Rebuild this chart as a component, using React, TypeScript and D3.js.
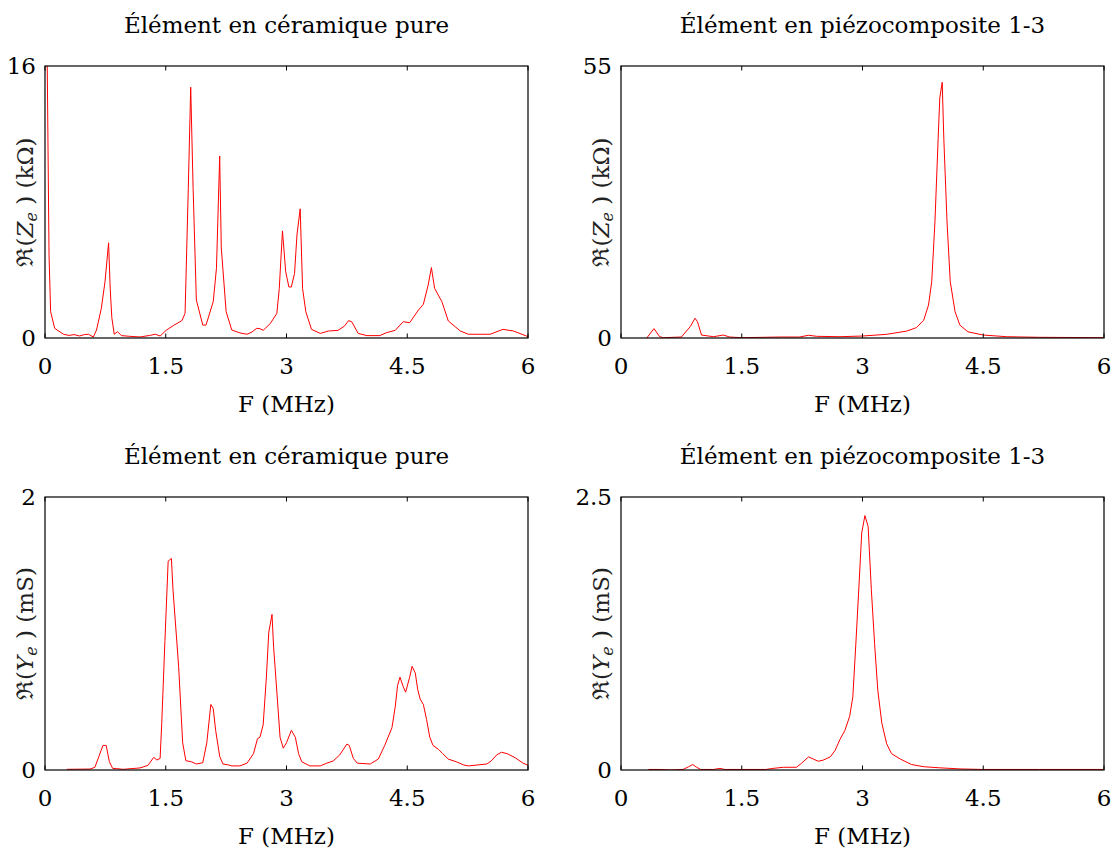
import React from 'react';
import * as d3 from 'd3';

// ---------- data ----------
const freqTicks = [0, 1.5, 3, 4.5, 6];
const freqTickLabels = ['0', '1.5', '3', '4.5', '6'];

const titles = ['Élément en céramique pure', 'Élément en piézocomposite 1-3'];

// Re(Ze) ceramic (kΩ)
const zCerF = [0.01, 0.05, 0.07, 0.12, 0.23, 0.30, 0.36, 0.43, 0.49, 0.54, 0.60, 0.64, 0.70, 0.745, 0.79, 0.81, 0.83, 0.86, 0.90, 0.95, 1.05, 1.18, 1.30, 1.37, 1.43, 1.51, 1.60, 1.70, 1.74, 1.78, 1.81, 1.84, 1.88, 1.96, 2.00, 2.09, 2.13, 2.17, 2.19, 2.25, 2.32, 2.42, 2.51, 2.57, 2.63, 2.67, 2.71, 2.80, 2.88, 2.91, 2.95, 2.99, 3.03, 3.06, 3.10, 3.13, 3.17, 3.20, 3.24, 3.31, 3.42, 3.52, 3.64, 3.72, 3.77, 3.81, 3.89, 4.00, 4.16, 4.24, 4.35, 4.45, 4.53, 4.64, 4.70, 4.76, 4.80, 4.84, 4.93, 5.01, 5.16, 5.26, 5.53, 5.69, 5.82, 6.00];
const zCerV = [25, 4.9, 1.55, 0.57, 0.22, 0.15, 0.2, 0.12, 0.2, 0.22, 0.06, 0.47, 1.75, 3.3, 5.6, 2.9, 1.2, 0.22, 0.37, 0.14, 0.1, 0.06, 0.15, 0.22, 0.12, 0.47, 0.75, 1.02, 1.45, 8.8, 14.75, 8.8, 2.24, 0.76, 0.76, 2.14, 4.1, 10.7, 5.3, 1.55, 0.47, 0.3, 0.22, 0.35, 0.57, 0.55, 0.45, 0.86, 1.45, 2.9, 6.3, 3.9, 3.0, 3.0, 3.8, 6.06, 7.6, 2.9, 1.55, 0.51, 0.27, 0.41, 0.45, 0.7, 1.02, 0.96, 0.27, 0.14, 0.14, 0.31, 0.45, 0.96, 0.9, 1.65, 1.98, 3.12, 4.14, 2.92, 2.14, 1.0, 0.41, 0.22, 0.22, 0.51, 0.41, 0.08];

// Re(Ze) piezocomposite (kΩ)
const zPzF = [0.32, 0.41, 0.48, 0.53, 0.75, 0.86, 0.92, 0.95, 1.00, 1.15, 1.27, 1.35, 1.50, 1.98, 2.22, 2.33, 2.43, 2.72, 3.00, 3.30, 3.55, 3.67, 3.76, 3.82, 3.86, 3.90, 3.94, 3.96, 3.99, 4.01, 4.05, 4.09, 4.15, 4.21, 4.31, 4.50, 4.79, 5.20, 6.00];
const zPzV = [0, 1.9, 0.26, 0.06, 0.2, 2.3, 4.0, 3.3, 0.6, 0.26, 0.6, 0.2, 0.06, 0.2, 0.2, 0.55, 0.34, 0.26, 0.4, 0.74, 1.4, 2.1, 3.6, 6.65, 11.4, 23.5, 40.4, 48.5, 51.7, 40.4, 23.5, 11.4, 5.3, 2.6, 1.25, 0.6, 0.26, 0.14, 0.06];

// Re(Ye) ceramic (mS)
const yCerF = [0.27, 0.56, 0.62, 0.67, 0.72, 0.76, 0.80, 0.84, 0.89, 0.97, 1.18, 1.28, 1.35, 1.39, 1.43, 1.45, 1.49, 1.53, 1.57, 1.59, 1.66, 1.71, 1.75, 1.82, 1.88, 1.96, 2.01, 2.06, 2.09, 2.12, 2.17, 2.21, 2.28, 2.32, 2.42, 2.51, 2.59, 2.64, 2.67, 2.71, 2.75, 2.78, 2.82, 2.84, 2.89, 2.92, 2.96, 3.00, 3.06, 3.11, 3.15, 3.19, 3.29, 3.42, 3.50, 3.58, 3.66, 3.75, 3.78, 3.83, 3.88, 4.04, 4.14, 4.22, 4.31, 4.35, 4.38, 4.41, 4.45, 4.48, 4.53, 4.56, 4.60, 4.63, 4.66, 4.70, 4.74, 4.78, 4.82, 4.89, 4.94, 5.01, 5.11, 5.20, 5.26, 5.49, 5.55, 5.61, 5.67, 5.74, 5.84, 5.94, 6.00];
const yCerV = [0.005, 0.007, 0.02, 0.1, 0.18, 0.18, 0.06, 0.012, 0.01, 0.005, 0.015, 0.034, 0.093, 0.073, 0.085, 0.34, 0.95, 1.53, 1.55, 1.32, 0.76, 0.2, 0.068, 0.06, 0.044, 0.053, 0.2, 0.48, 0.45, 0.29, 0.1, 0.044, 0.037, 0.03, 0.03, 0.05, 0.12, 0.23, 0.24, 0.33, 0.68, 1.01, 1.14, 0.9, 0.49, 0.24, 0.16, 0.2, 0.29, 0.24, 0.12, 0.06, 0.03, 0.03, 0.05, 0.066, 0.11, 0.19, 0.18, 0.085, 0.05, 0.044, 0.08, 0.18, 0.31, 0.46, 0.62, 0.68, 0.61, 0.57, 0.68, 0.76, 0.71, 0.59, 0.52, 0.48, 0.37, 0.24, 0.18, 0.15, 0.12, 0.08, 0.06, 0.037, 0.03, 0.044, 0.07, 0.11, 0.13, 0.12, 0.09, 0.05, 0.035];

// Re(Ye) piezocomposite (mS)
const yPzF = [0.34, 0.48, 0.61, 0.77, 0.84, 0.89, 0.94, 0.99, 1.15, 1.23, 1.29, 1.50, 1.80, 1.89, 2.02, 2.18, 2.24, 2.33, 2.39, 2.45, 2.51, 2.60, 2.66, 2.72, 2.78, 2.84, 2.88, 2.92, 2.96, 2.99, 3.03, 3.07, 3.11, 3.15, 3.19, 3.24, 3.30, 3.36, 3.47, 3.61, 3.76, 3.96, 4.21, 4.50, 5.20, 6.00];
const yPzV = [0.005, 0.005, 0, 0.005, 0.03, 0.05, 0.025, 0.005, 0.005, 0.015, 0.005, 0.005, 0.005, 0.015, 0.025, 0.025, 0.06, 0.12, 0.1, 0.08, 0.09, 0.12, 0.18, 0.28, 0.36, 0.49, 0.67, 1.19, 1.74, 2.17, 2.33, 2.23, 1.65, 1.16, 0.73, 0.43, 0.24, 0.15, 0.1, 0.05, 0.03, 0.02, 0.01, 0.005, 0.005, 0.005];

const yMaxes = [16, 55, 2, 2.5];
const yMaxLabels = ['16', '55', '2', '2.5'];

// ---------- layout ----------
const FONT = "'DejaVu Serif', 'Liberation Serif', serif";
const FS = 23;

type Panel = {
  x0: number; x1: number; y0: number; y1: number;
  title: string; yMax: number; yMaxLabel: string;
  sym: string; unit: string; F: number[]; V: number[];
};

const panels: Panel[] = [
  { x0: 45, x1: 528, y0: 66, y1: 338, title: titles[0], yMax: yMaxes[0], yMaxLabel: yMaxLabels[0], sym: 'Z', unit: '(kΩ)', F: zCerF, V: zCerV },
  { x0: 621, x1: 1104, y0: 66, y1: 338, title: titles[1], yMax: yMaxes[1], yMaxLabel: yMaxLabels[1], sym: 'Z', unit: '(kΩ)', F: zPzF, V: zPzV },
  { x0: 45, x1: 528, y0: 497, y1: 770, title: titles[0], yMax: yMaxes[2], yMaxLabel: yMaxLabels[2], sym: 'Y', unit: '(mS)', F: yCerF, V: yCerV },
  { x0: 621, x1: 1104, y0: 497, y1: 770, title: titles[1], yMax: yMaxes[3], yMaxLabel: yMaxLabels[3], sym: 'Y', unit: '(mS)', F: yPzF, V: yPzV },
];

function PanelView({ p, idx }: { p: Panel; idx: number }) {
  const x = d3.scaleLinear().domain([0, 6]).range([p.x0, p.x1]);
  const y = d3.scaleLinear().domain([0, p.yMax]).range([p.y1, p.y0]);
  const pts: [number, number][] = p.F.map((f, i) => [f, p.V[i]]);
  const line = d3.line<[number, number]>().x(d => x(d[0])).y(d => y(d[1])).curve(d3.curveLinear);
  const clipId = `clip-${idx}`;
  const yc = (p.y0 + p.y1) / 2;
  const tl = 4.5;
  return (
    <g>
      <defs>
        <clipPath id={clipId}>
          <rect x={p.x0} y={p.y0} width={p.x1 - p.x0} height={p.y1 - p.y0} />
        </clipPath>
      </defs>
      <path d={line(pts) || ''} fill="none" stroke="#ff0000" strokeWidth={1} clipPath={`url(#${clipId})`} strokeLinejoin="round" />
      <rect x={p.x0} y={p.y0} width={p.x1 - p.x0} height={p.y1 - p.y0} fill="none" stroke="#000" strokeWidth={1.2} />
      {freqTicks.map((t, i) => (
        <g key={i}>
          <line x1={x(t)} x2={x(t)} y1={p.y1} y2={p.y1 - tl} stroke="#000" strokeWidth={1} />
          <line x1={x(t)} x2={x(t)} y1={p.y0} y2={p.y0 + tl} stroke="#000" strokeWidth={1} />
          <text x={x(t)} y={p.y1 + 36} textAnchor="middle" fontFamily={FONT} fontSize={FS}>{freqTickLabels[i]}</text>
        </g>
      ))}
      <text x={p.x0 - 9} y={y(0) + 8} textAnchor="end" fontFamily={FONT} fontSize={FS}>0</text>
      <text x={p.x0 - 9} y={y(p.yMax) + 8} textAnchor="end" fontFamily={FONT} fontSize={FS}>{p.yMaxLabel}</text>
      <text x={(p.x0 + p.x1) / 2} y={p.y1 + 74} textAnchor="middle" fontFamily={FONT} fontSize={FS}>F (MHz)</text>
      <text x={(p.x0 + p.x1) / 2} y={p.y0 - 33} textAnchor="middle" fontFamily={FONT} fontSize={FS}>{p.title}</text>
      <text transform={`translate(${p.x0 - 12},${yc}) rotate(-90)`} textAnchor="middle" fontFamily={FONT} fontSize={FS} fill="#222">
        <tspan>ℜ</tspan>(<tspan fontStyle="italic">{p.sym}</tspan><tspan fontStyle="italic" fontSize={16} dy={4}>e</tspan><tspan dy={-4}> ) {p.unit}</tspan>
      </text>
    </g>
  );
}

export default function App() {
  return (
    <svg width={1120} height={852} style={{ position: 'absolute', left: 0, top: 0, background: '#fff' }}>
      <rect x={0} y={0} width={1120} height={852} fill="#fff" />
      {panels.map((p, i) => <PanelView key={i} p={p} idx={i} />)}
    </svg>
  );
}
